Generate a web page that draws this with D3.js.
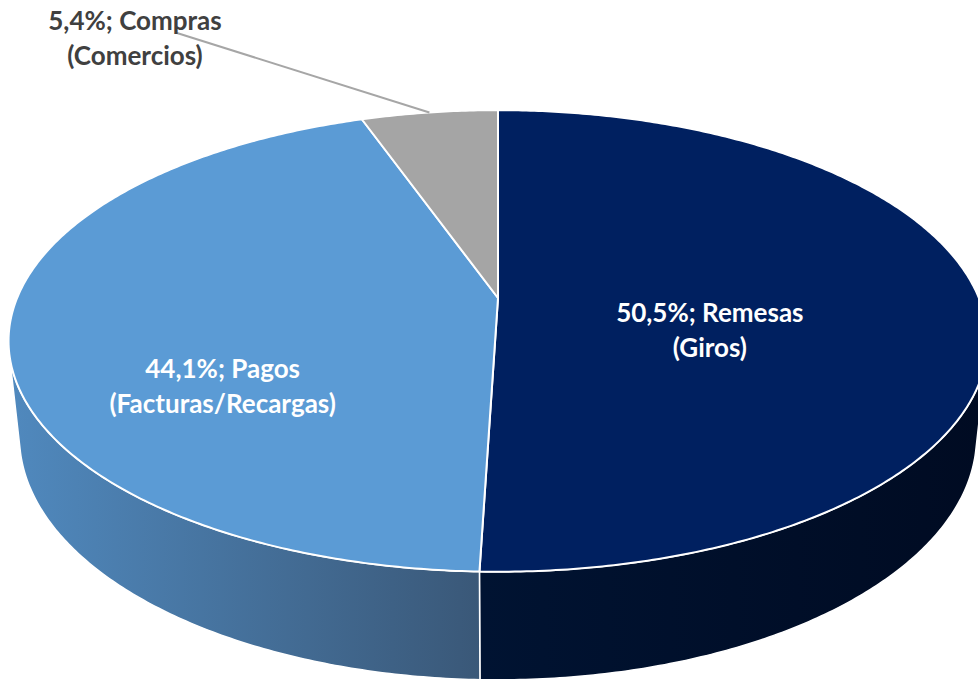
<!DOCTYPE html>
<html lang="es">
<head>
  <meta charset="utf-8" />
  <title>Distribución de transacciones - Pie 3D</title>
  <script src="https://cdnjs.cloudflare.com/ajax/libs/d3/7.8.5/d3.min.js"></script>
  <style>
    body { margin: 0; background: #fff; overflow: hidden; }
    svg text { font-family: Lato, "Open Sans", sans-serif; font-weight: 700; }
  </style>
</head>
<body>
<svg id="chart" width="978" height="682"></svg>
<script>
  // data
  const categories = ["Remesas", "Pagos", "Compras"];
  const subLabels = ["(Giros)", "(Facturas/Recargas)", "(Comercios)"];
  const values = [50.5, 44.1, 5.4];
  const valueLabels = ["50,5%", "44,1%", "5,4%"];

  // look
  const topColors = ["#002060", "#5b9bd5", "#a5a5a5"];
  const sideLight = ["#001332", "#5089be", "#8c8c8c"];
  const sideDark = ["#000b22", "#3a5878", "#707070"];

  const svg = d3.select("#chart");

  // simple perspective camera looking down at the pie
  const cx = 498, cy = 298;
  const tilt = 27.6 * Math.PI / 180;
  const R = 0.21, thick = 0.0475, focal = 2290;

  function project(theta, r, y) {
    const X = r * Math.sin(theta), Z = r * Math.cos(theta);
    const Yc = y * Math.cos(tilt) + Z * Math.sin(tilt);
    const Zc = 1 + Z * Math.cos(tilt) - y * Math.sin(tilt);
    return [cx + focal * X / Zc, cy - focal * Yc / Zc];
  }

  function arcPoints(a0, a1, r, y) {
    const n = Math.max(2, Math.ceil(Math.abs(a1 - a0) / 0.01));
    return d3.range(n + 1).map(i => project(a0 + (a1 - a0) * i / n, r, y));
  }

  const line = d3.line();
  const pie = d3.pie().sort(null).value(d => d);
  const arcs = pie(values);

  // part of the wall facing the camera
  const visLo = Math.acos(-R / Math.cos(tilt));
  const visHi = 2 * Math.PI - visLo;

  const defs = svg.append("defs");

  // walls first
  arcs.forEach(function(a, i) {
    const s0 = Math.max(a.startAngle, visLo);
    const s1 = Math.min(a.endAngle, visHi);
    if (s1 <= s0) return;

    const p0 = project(s0, R, 0), p1 = project(s1, R, 0);
    const gid = "side" + i;
    const g = defs.append("linearGradient")
      .attr("id", gid)
      .attr("gradientUnits", "userSpaceOnUse")
      .attr("x1", Math.min(p0[0], p1[0])).attr("y1", 0)
      .attr("x2", Math.max(p0[0], p1[0])).attr("y2", 0);
    g.append("stop").attr("offset", 0).attr("stop-color", sideLight[i]);
    g.append("stop").attr("offset", 1).attr("stop-color", sideDark[i]);

    const pts = arcPoints(s0, s1, R, 0).concat(arcPoints(s0, s1, R, -thick).reverse());
    svg.append("path")
      .attr("d", line(pts) + "Z")
      .attr("fill", "url(#" + gid + ")")
      .attr("stroke", "#fff")
      .attr("stroke-width", 1.5)
      .attr("stroke-linejoin", "round");
  });

  // top faces
  arcs.forEach(function(a, i) {
    const pts = [project(0, 0, 0)].concat(arcPoints(a.startAngle, a.endAngle, R, 0));
    svg.append("path")
      .attr("d", line(pts) + "Z")
      .attr("fill", topColors[i])
      .attr("stroke", "#fff")
      .attr("stroke-width", 2)
      .attr("stroke-linejoin", "round");
  });

  // labels
  const fontSize = 26;
  const inside = { 0: { r: 0.44, dy: 22 }, 1: { r: 0.57, dy: 60 } };

  arcs.forEach(function(a, i) {
    const mid = (a.startAngle + a.endAngle) / 2;
    let x, y, fill;
    if (inside[i]) {
      const p = project(mid, R * inside[i].r, 0);
      x = p[0]; y = p[1] + inside[i].dy; fill = "#fff";
    } else {
      // outside label with leader line
      const rim = project(mid, R, 0);
      const end = [177, 33];
      svg.append("line")
        .attr("x1", rim[0]).attr("y1", rim[1])
        .attr("x2", end[0]).attr("y2", end[1])
        .attr("stroke", "#a6a6a6")
        .attr("stroke-width", 2);
      x = 135; y = 30; fill = "#404040";
    }
    const t = svg.append("text")
      .attr("x", x).attr("y", y)
      .attr("text-anchor", "middle")
      .attr("font-size", fontSize)
      .attr("fill", fill);
    t.append("tspan").attr("x", x).text(valueLabels[i] + "; " + categories[i]);
    t.append("tspan").attr("x", x).attr("dy", 35).text(subLabels[i]);
  });
</script>
</body>
</html>
